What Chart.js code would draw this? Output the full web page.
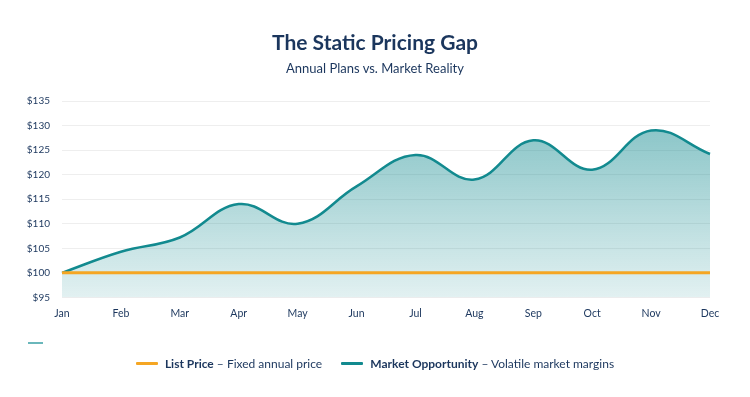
<!DOCTYPE html>
<html><head><meta charset="utf-8">
<script src="https://cdn.jsdelivr.net/npm/chart.js@4"></script>
<style>
html,body{margin:0;padding:0;background:#fff;}
#wrap{position:relative;width:750px;height:397px;font-family:Lato,"Open Sans",sans-serif;color:#1b365d;}
canvas{position:absolute;left:0;top:0;}
#title{position:absolute;top:29px;left:0;width:750px;text-align:center;font-size:21px;font-weight:700;color:#1b365d;}
#sub{position:absolute;top:60px;left:0;width:750px;text-align:center;font-size:13px;color:#1b365d;}
#legend{position:absolute;top:353px;left:0;width:750px;text-align:center;font-size:12px;color:#1b365d;}
.li{display:inline-flex;align-items:center;margin:0 8px;}
.sw{display:inline-block;width:22px;height:3px;margin-right:7px;border-radius:1px;}
#stub{position:absolute;left:28px;top:342px;width:15px;height:2px;background:#6ab7bb;}
</style></head>
<body><div id="wrap">
<canvas id="c" width="750" height="397"></canvas>
<div id="title">The Static Pricing Gap</div>
<div id="sub">Annual Plans vs. Market Reality</div>
<div id="stub"></div>
<div id="legend">
<span class="li"><span class="sw" style="background:#f5a623"></span><b>List Price</b>&nbsp;– Fixed annual price</span>
<span class="li"><span class="sw" style="background:#128a8f"></span><b>Market Opportunity</b>&nbsp;– Volatile market margins</span>
</div>
</div>
<script>
const months = ["Jan","Feb","Mar","Apr","May","Jun","Jul","Aug","Sep","Oct","Nov","Dec"];
const listPrice = [100,100,100,100,100,100,100,100,100,100,100,100];
const marketOpportunity = [100,104.3,107.2,114,110,117.6,124,119,127,121,129,124.2];
const yTicks = [95,100,105,110,115,120,125,130,135];

const ctx = document.getElementById('c').getContext('2d');
new Chart(ctx, {
  type: 'line',
  data: {
    labels: months,
    datasets: [
      {label:'List Price', data:listPrice, borderColor:'#f5a623', borderWidth:3, pointRadius:0, fill:false, tension:0, order:0},
      {label:'Market Opportunity', data:marketOpportunity, borderColor:'#128a8f', borderWidth:2.5, pointRadius:0, tension:0.4, order:1,
       fill:'start',
       backgroundColor: function(c){
         const a=c.chart.chartArea; if(!a) return 'rgba(18,138,143,0.4)';
         const g=c.chart.ctx.createLinearGradient(0,a.top,0,a.bottom);
         g.addColorStop(0,'rgba(18,138,143,0.55)');
         g.addColorStop(1,'rgba(18,138,143,0.12)');
         return g;
       }}
    ]
  },
  options: {
    responsive:false, animation:false,
    layout:{padding:{left:0,right:40,top:101,bottom:75}},
    plugins:{legend:{display:false},title:{display:false},tooltip:{enabled:false}},
    scales:{
      x:{grid:{display:false},border:{display:false},
         ticks:{color:'#1b365d',font:{family:'Lato',size:10.5},padding:2,maxRotation:0}},
      y:{min:95,max:135,afterFit:s=>{s.width=62;},
         afterBuildTicks:s=>{s.ticks=yTicks.map(v=>({value:v}));},
         grid:{color:'#eeeeee',drawTicks:false},border:{display:false},
         ticks:{color:'#1b365d',font:{family:'Lato',size:10},padding:12,callback:v=>'$'+v}}
    }
  }
});
</script>
</body></html>
